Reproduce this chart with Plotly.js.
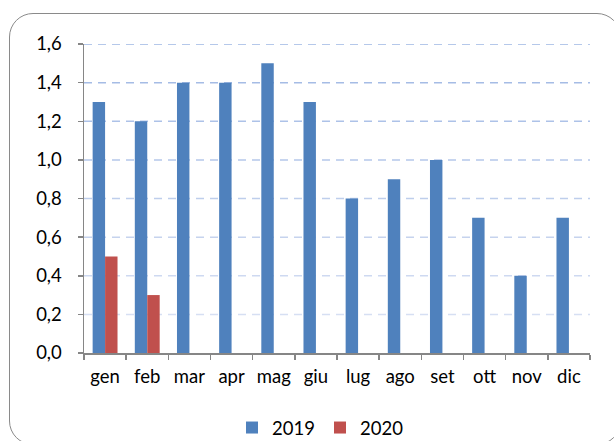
<!DOCTYPE html>
<html>
<head>
<meta charset="utf-8">
<script src="https://cdn.plot.ly/plotly-3.0.1.min.js"></script>
<style>
  html, body { margin: 0; padding: 0; background: #fff; }
  #wrap { position: relative; width: 614px; height: 441px; overflow: hidden; }
  #frame { position: absolute; left: 9px; top: 13px; width: 612px; height: 432px;
           border: 1.5px solid #8a8a8a; border-radius: 24px; box-sizing: border-box; pointer-events: none; }
  #chart { position: absolute; left: 0; top: 0; width: 614px; height: 441px; }
</style>
</head>
<body>
<div id="wrap">
  <div id="chart"></div>
  <div id="frame"></div>
</div>
<script>
const months = ["gen","feb","mar","apr","mag","giu","lug","ago","set","ott","nov","dic"];
const months2020 = ["gen","feb"];
const values2019 = [1.3, 1.2, 1.4, 1.4, 1.5, 1.3, 0.8, 0.9, 1.0, 0.7, 0.4, 0.7];
const values2020 = [0.5, 0.3];
const yTicks = [0, 0.2, 0.4, 0.6, 0.8, 1.0, 1.2, 1.4, 1.6];

const font = "Lato, 'Open Sans', sans-serif";
const fs = 18.5;

// gridline colour fades from top (saturated) to bottom (pale)
function gridColor(t) {
  const top = [157, 182, 227], bot = [222, 229, 245];
  const c = top.map((v, i) => Math.round(bot[i] + (v - bot[i]) * t));
  return "rgb(" + c.join(",") + ")";
}
const yMax = yTicks[yTicks.length - 1];
const gridShapes = yTicks.filter(v => v > 0).map(v => ({
  type: "line", xref: "paper", x0: 0, x1: 1, yref: "y", y0: v, y1: v,
  layer: "below", line: { color: gridColor(v / yMax), width: 1.5, dash: "8px,6px" }
}));

const data = [
  { type: "bar", name: "2019", x: months, y: values2019,
    marker: { color: "#4F81BD" }, hoverinfo: "none" },
  { type: "bar", name: "2020", x: months2020, y: values2020,
    marker: { color: "#C0504D" }, hoverinfo: "none" }
];

const layout = {
  width: 614, height: 441,
  margin: { l: 84, r: 24, t: 44, b: 88, autoexpand: false },
  paper_bgcolor: "rgba(0,0,0,0)",
  plot_bgcolor: "rgba(0,0,0,0)",
  separators: ", ",
  barmode: "group",
  bargap: 0.41,
  bargroupgap: 0,
  font: { family: font, size: fs, color: "#000" },
  showlegend: true,
  legend: { orientation: "h", xref: "container", yref: "container",
            x: 232 / 614, xanchor: "left", y: 1 - 428 / 441, yanchor: "middle",
            entrywidth: 43, entrywidthmode: "pixels",
            font: { family: font, size: fs, color: "#000" }, itemwidth: 30, traceorder: "normal",
            bgcolor: "rgba(0,0,0,0)" },
  shapes: gridShapes,
  xaxis: {
    type: "category", categoryarray: months, categoryorder: "array",
    showline: true, linecolor: "#868686", linewidth: 1.5, tickangle: 0,
    ticks: "outside", tickson: "boundaries", ticklen: 5, tickcolor: "#868686", tickwidth: 1.5,
    showgrid: false, zeroline: false, fixedrange: true, ticklabelstandoff: 6,
    tickfont: { family: font, size: fs, color: "#000" }
  },
  yaxis: {
    range: [0, 1.6], tickvals: yTicks, tickformat: ".1f",
    showline: true, linecolor: "#868686", linewidth: 1.5,
    ticks: "outside", ticklen: 5, tickcolor: "#868686", tickwidth: 1.5,
    showgrid: false, zeroline: false, fixedrange: true, ticklabelstandoff: 12,
    tickfont: { family: font, size: fs, color: "#000" }
  }
};

Plotly.newPlot("chart", data, layout, { displayModeBar: false, staticPlot: true });
</script>
</body>
</html>
